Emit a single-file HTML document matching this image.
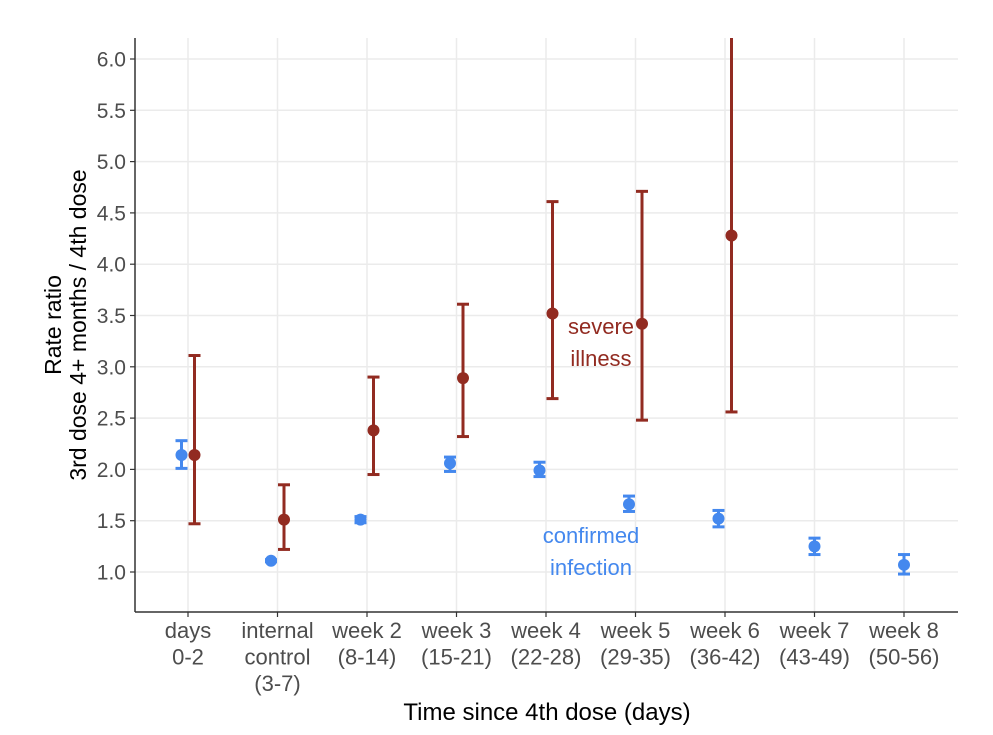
<!DOCTYPE html>
<html><head><meta charset="utf-8"><style>
body{margin:0;background:#fff;}
svg{display:block;font-family:"Liberation Sans",sans-serif;}
</style></head><body>
<svg id="chart" width="993" height="735"></svg>
<script>
const categories=[["days","0-2"],["internal","control","(3-7)"],["week 2","(8-14)"],["week 3","(15-21)"],["week 4","(22-28)"],["week 5","(29-35)"],["week 6","(36-42)"],["week 7","(43-49)"],["week 8","(50-56)"]];
const infectionValues=[2.14,1.11,1.51,2.06,1.99,1.66,1.52,1.25,1.07];
const infectionLow=[2.01,1.10,1.48,1.98,1.93,1.59,1.44,1.17,0.98];
const infectionHigh=[2.28,1.12,1.54,2.12,2.07,1.74,1.60,1.33,1.17];
const severeValues=[2.14,1.51,2.38,2.89,3.52,3.42,4.28];
const severeLow=[1.47,1.22,1.95,2.32,2.69,2.48,2.56];
const severeHigh=[3.11,1.85,2.90,3.61,4.61,4.71,7.5];
const yTicks=[1.0,1.5,2.0,2.5,3.0,3.5,4.0,4.5,5.0,5.5,6.0];

const NS="http://www.w3.org/2000/svg";
const svg=document.getElementById('chart');
const L=135,R=958,T=38,B=612;
const x=i=>188+i*89.5;
const y=v=>572-(v-1)*102.6;
function el(tag,attrs,parent){const e=document.createElementNS(NS,tag);for(const k in attrs)e.setAttribute(k,attrs[k]);(parent||svg).appendChild(e);return e;}
const clip=el('clipPath',{id:'pc'});el('rect',{x:L,y:T,width:R-L,height:B-T},clip);
yTicks.forEach(v=>{const g=el('line',{x1:L,x2:R,y1:y(v),y2:y(v),stroke:'#ebebeb','stroke-width':1.5});


const t=el('text',{x:L-9,y:y(v)+7.5,'text-anchor':'end','font-size':21,fill:'#4d4d4d'});t.textContent=v.toFixed(1);


el('line',{x1:L-5,x2:L,y1:y(v),y2:y(v),stroke:'#333','stroke-width':1.2});});
categories.forEach((c,i)=>{const g=el('line',{x1:x(i),x2:x(i),y1:T,y2:B,stroke:'#ebebeb','stroke-width':1.5});


el('line',{x1:x(i),x2:x(i),y1:B,y2:B+5,stroke:'#333','stroke-width':1.2});
const t=el('text',{x:x(i),'text-anchor':'middle','font-size':22,fill:'#4d4d4d'});


c.forEach((s,j)=>{const ts=el('tspan',{x:x(i),y:638+j*26.5},t);ts.textContent=s;});});
el('line',{x1:L,x2:L,y1:T,y2:B,stroke:'#333','stroke-width':1.5});
el('line',{x1:L,x2:R,y1:B,y2:B,stroke:'#333','stroke-width':1.5});
const gp=el('g',{'clip-path':'url(#pc)'});
function series(vals,lo,hi,color,off,name){vals.forEach((v,i)=>{const cx=x(i)+(i<7?off:0);
const g=el('g',{},gp);


el('line',{x1:cx,x2:cx,y1:y(lo[i]),y2:y(hi[i]),stroke:color,'stroke-width':3},g);
[lo[i],hi[i]].forEach(b=>el('line',{x1:cx-6,x2:cx+6,y1:y(b),y2:y(b),stroke:color,'stroke-width':3},g));
el('circle',{cx:cx,cy:y(v),r:6,fill:color},g);});}
series(infectionValues,infectionLow,infectionHigh,'#4488EE',-6.5,'infection');
series(severeValues,severeLow,severeHigh,'#922B21',6.5,'severe');
function label(lines,cx,cy,color,name){const t=el('text',{'text-anchor':'middle','font-size':22,fill:color});


lines.forEach((s,j)=>{const ts=el('tspan',{x:cx,y:cy+j*32},t);ts.textContent=s;});}
label(['severe','illness'],601,334,'#922B21','severe-illness-label');
label(['confirmed','infection'],591,543,'#4488EE','confirmed-infection-label');
const xt=el('text',{x:547,y:720,'text-anchor':'middle','font-size':24,fill:'#000'});xt.textContent='Time since 4th dose (days)';


const yt=el('text',{'text-anchor':'middle','font-size':23,fill:'#000',transform:'translate(0,325) rotate(-90)'});


[['Rate ratio',61],['3rd dose 4+ months / 4th dose',86]].forEach(([s,yy])=>{const ts=el('tspan',{x:0,y:yy},yt);ts.textContent=s;});
</script>
</body></html>
